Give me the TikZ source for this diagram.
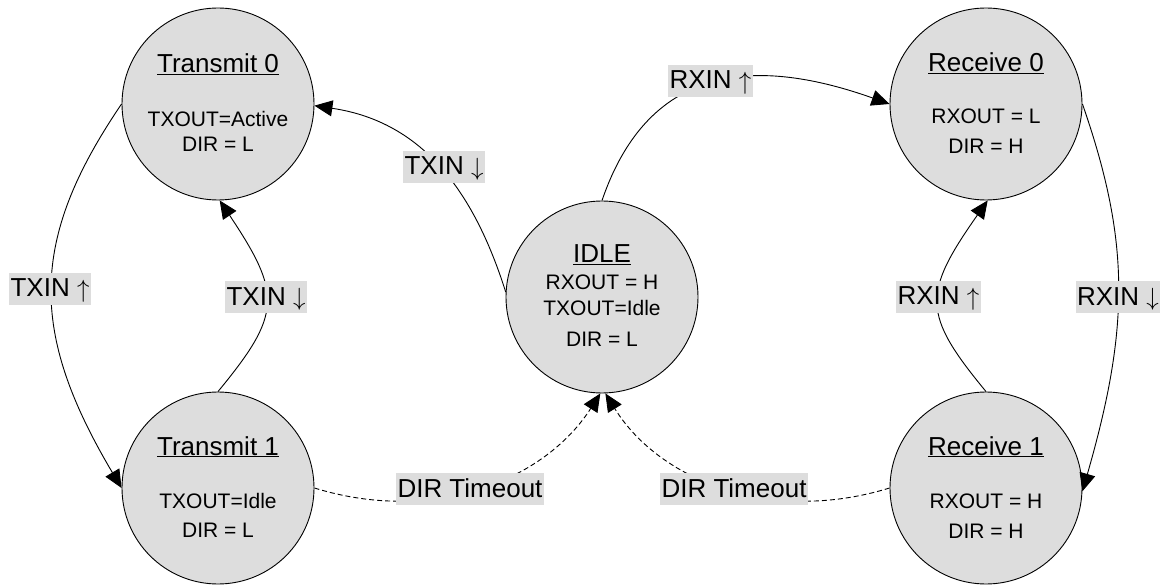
\documentclass[tikz,border=0pt]{standalone}
\usepackage{fontspec}
\setmainfont{Liberation Sans}
\usetikzlibrary{arrows.meta}
\definecolor{cfill}{RGB}{221,221,221}
\newcommand\arrup{\raisebox{-0.5pt}{$\uparrow$}}
\newcommand\arrdn{\raisebox{-0.5pt}{$\downarrow$}}
\begin{document}
\begin{tikzpicture}[x=1pt,y=-1pt,
  state/.style={circle,draw=black,line width=0.9pt,fill=cfill,minimum size=192pt,inner sep=0pt},
  ttl/.style={anchor=base,font=\fontsize{26}{30}\selectfont,inner sep=0pt},
  txt/.style={anchor=base,font=\fontsize{21}{25}\selectfont,inner sep=0pt},
  lbl/.style={fill=cfill,font=\fontsize{26}{30}\selectfont,inner xsep=1.5pt,inner ysep=1pt,text height=23pt,text depth=7pt},
  conn/.style={line width=0.9pt,-{Triangle[length=18pt,width=16pt]}},
  dconn/.style={conn,dash pattern=on 5pt off 3pt}]
\useasboundingbox (0,0) rectangle (1163,588);

% states
\node[state] (t0) at (218,104) {};
\node[state] (t1) at (218,488) {};
\node[state] (idle) at (602,297) {};
\node[state] (r0) at (986,104) {};
\node[state] (r1) at (986,488) {};

% state texts
\node[ttl] (t0a) at (218,73) {\underline{Transmit 0}};
\node[txt] (t0b) at (218,127) {TXOUT=Active};
\node[txt] (t0c) at (218,152) {DIR = L};

\node[ttl] (t1a) at (218,455) {\underline{Transmit 1}};
\node[txt] (t1b) at (218,508) {TXOUT=Idle};
\node[txt] (t1c) at (218,537) {DIR = L};

\node[ttl] (ida) at (602,263) {\underline{IDLE}};
\node[txt] (idb) at (602,290) {RXOUT = H};
\node[txt] (idc) at (602,316) {TXOUT=Idle};
\node[txt] (idd) at (602,346) {DIR = L};

\node[ttl] (r0a) at (986,72) {\underline{Receive 0}};
\node[txt] (r0b) at (986,124) {RXOUT = L};
\node[txt] (r0c) at (986,154) {DIR = H};

\node[ttl] (r1a) at (986,455) {\underline{Receive 1}};
\node[txt] (r1b) at (986,508) {RXOUT = H};
\node[txt] (r1c) at (986,538) {DIR = H};

% connectors
\draw[conn] (t0.180) .. controls (29,240) and (29,332) .. (t1.180);
\draw[conn] (t1.90) .. controls (282,314) and (282,294) .. (t0.-89);
\draw[conn] (idle.177) .. controls (475,195) and (425,122) .. (t0.-1);
\draw[conn] (idle.90) .. controls (650,60) and (760,58) .. (r0.180);
\draw[conn] (r1.90) .. controls (922,314) and (922,294) .. (r0.-89);
\draw[conn] (r0.0) .. controls (1130,241) and (1130,326) .. (r1.-2);
\draw[dconn] (t1.0) .. controls (434,525) and (545,480) .. (idle.-91);
\draw[dconn] (r1.180) .. controls (770,525) and (659,480) .. (idle.-88);

% labels
\node[lbl] (l1) at (50,289) {TXIN \arrup};
\node[lbl] (l2) at (266,297.5) {TXIN \arrdn};
\node[lbl] (l3) at (444,167) {TXIN \arrdn};
\node[lbl] (l4) at (710.5,81) {RXIN \arrup};
\node[lbl] (l5) at (938.5,297) {RXIN \arrup};
\node[lbl] (l6) at (1118,297.5) {RXIN \arrdn};
\node[lbl] (l7) at (470,489) {DIR Timeout};
\node[lbl] (l8) at (734,489) {DIR Timeout};
\end{tikzpicture}
\end{document}
